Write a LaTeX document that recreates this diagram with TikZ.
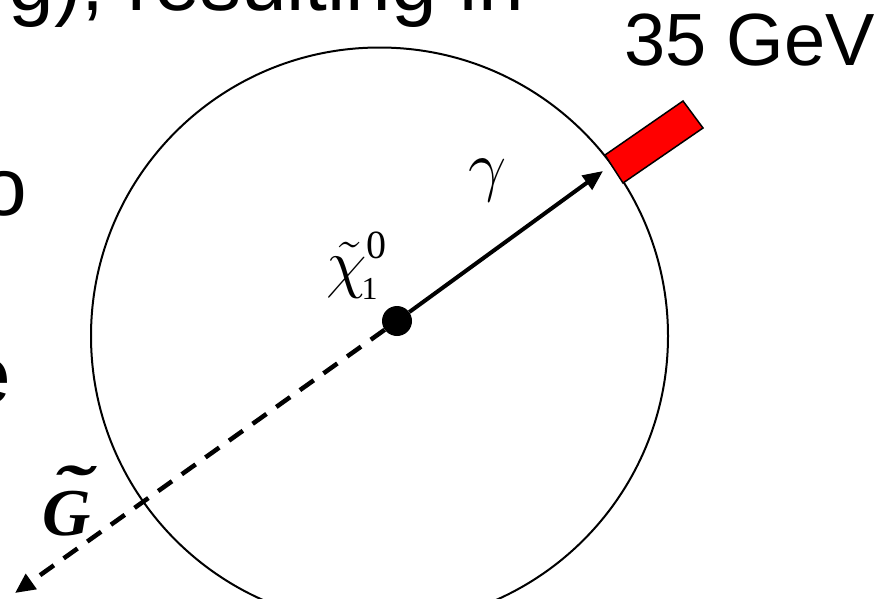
\RequirePackage{fix-cm}
\documentclass[tikz,border=0pt]{standalone}
\usepackage{fontspec}
\setmainfont{Liberation Sans}
\newfontfamily\serif{Liberation Serif}
\usetikzlibrary{arrows.meta}
\begin{document}
\begin{tikzpicture}[x=1pt,y=-1pt,
  bigtext/.style={font=\fontsize{82}{88}\selectfont, inner sep=0pt},
  gevtext/.style={font=\fontsize{74}{80}\selectfont, inner sep=0pt},
  mathlbl/.style={font=\fontsize{68}{72}\selectfont, inner sep=0pt},
  ring/.style={draw=black, line width=2pt},
  photon/.style={line width=4pt, -{Triangle[length=20pt,width=17pt]}},
  gravitino/.style={line width=4.5pt, dash pattern=on 17pt off 12pt, -{Triangle[length=20pt,width=18pt]}},
  deposit/.style={fill=red, draw=black, line width=1.5pt, line join=miter},
  vertex/.style={circle, fill=black, minimum size=30pt, inner sep=0pt}]
\useasboundingbox (0,0) rectangle (878,598);
\clip (0,0) rectangle (878,598);
% partial background text
\node[bigtext, anchor=base east] (t1) at (524,10) {g), resulting in};
\node[bigtext, anchor=base east] (t2) at (27,215) {o};
\node[bigtext, anchor=base east] (t3) at (11,403) {e};
\node[gevtext, anchor=base west] (gev) at (624,65) {35 GeV};
% detector circle
\node[ring, circle, minimum size=577pt, inner sep=0pt] (det) at (379.5,336) {};
% energy deposit
\draw[deposit] (605,155) -- (683,101) -- (703,128) -- (623,183) -- cycle;
% vertex and particles
\node[vertex] (c) at (397,321) {};
\coordinate (gtip) at (603,171);
\coordinate (gravend) at (15,593);
\draw[photon] (c) -- (gtip);
\draw[gravitino] (c) -- (gravend);
% labels
\node[font=\fontsize{66}{70}\selectfont, inner sep=0pt, anchor=base west] (chi) at (326,285) {$\tilde{\chi}$\kern-5pt\raisebox{-14pt}{\fontsize{32}{34}\selectfont\serif 1}\kern-11pt\raisebox{27pt}{\fontsize{40}{42}\selectfont\serif 0}};
\node[mathlbl, anchor=base west] (gam) at (468,188) {$\gamma$};
\node[font=\fontsize{67}{70}\selectfont\serif\bfseries\itshape, inner sep=0pt, anchor=base] (G) at (67,535) {\ooalign{G\cr\hidewidth\kern6pt\raisebox{24pt}{\scalebox{1.7}[1]{\char"02DC}}\hidewidth\cr}};
\end{tikzpicture}
\end{document}
